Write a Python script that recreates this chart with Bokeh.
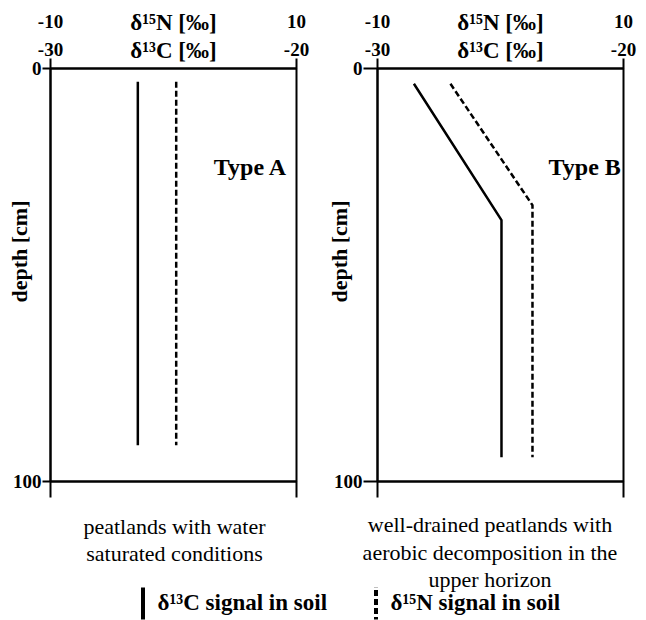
from bokeh.plotting import figure
from bokeh.models import (Range1d, LinearAxis, FixedTicker, Label, Legend,
                          LegendItem, ColumnDataSource, Title)
from bokeh.layouts import row, column
from bokeh.embed import file_html
from bokeh.resources import INLINE

# ---- tick values / labels ----
depth_ticks = [0, 100]
depth_labels = ["0", "100"]
c13_ticks = [-30, -20]
c13_labels = ["-30", "-20"]
n15_ticks = [-10, 10]
n15_labels = ["-10", "10"]

# ---- Type A profile ----
a_c13_depth = [3.2, 91.2]
a_c13 = [-26.45, -26.45]
a_n15_depth = [3.2, 91.2]
a_n15 = [0.22, 0.22]

# ---- Type B profile ----
b_c13_depth = [3.7, 36.7, 94.1]
b_c13 = [-28.52, -24.96, -24.96]
b_n15_depth = [3.7, 33.1, 94.1]
b_n15 = [-4.07, 2.6, 2.6]

# ---- texts ----
caption_a = ["peatlands with water", "saturated conditions"]
caption_b = ["well-drained peatlands with", "aerobic decomposition in the",
             "upper horizon"]
legend_labels = ["δ¹³C signal in soil", "δ¹⁵N signal in soil"]

FONT = "Liberation Serif"


def panel(width, bl, br, tick_left, c_x, c_d, n_x, n_d, type_text, type_x,
          depth_standoff):
    p = figure(width=width, height=500, x_range=Range1d(-30, -20),
               y_range=Range1d(100, 0), output_backend="svg",
               toolbar_location=None, x_axis_location=None,
               y_axis_location=None, min_border_left=bl, min_border_right=br,
               min_border_top=68, min_border_bottom=19)
    p.extra_x_ranges = {"n": Range1d(-10, 10)}
    p.grid.visible = False
    p.outline_line_color = "black"
    p.outline_line_width = 2
    p.background_fill_color = "white"
    p.border_fill_color = "white"

    lab = dict(major_label_text_font=FONT, major_label_text_font_style="bold",
               major_label_text_font_size="19px",
               major_label_text_color="black")
    ttl = dict(axis_label_text_font=FONT, axis_label_text_font_style="bold",
               axis_label_text_font_size="23px",
               axis_label_text_color="black")

    ax_l = LinearAxis(ticker=FixedTicker(ticks=depth_ticks),
                      major_label_overrides=dict(zip(depth_ticks, depth_labels)),
                      major_tick_out=tick_left, major_tick_in=0,
                      minor_tick_line_color=None, axis_line_width=2,
                      major_tick_line_width=2, major_label_standoff=1, **lab)
    p.add_layout(ax_l, "left")
    p.add_layout(Title(text="depth [cm]", align="right", offset=132,
                       vertical_align="bottom", standoff=depth_standoff,
                       text_font=FONT, text_font_style="bold",
                       text_font_size="22px", text_color="black"), "left")

    ax_c = LinearAxis(ticker=FixedTicker(ticks=c13_ticks),
                      major_label_overrides=dict(zip(c13_ticks, c13_labels)),
                      major_tick_out=10, major_tick_in=0,
                      minor_tick_line_color=None, axis_line_width=2,
                      major_tick_line_width=2, major_label_standoff=3,
                      axis_label="δ¹³C [‰]", axis_label_standoff=-23,
                      **lab, **ttl)
    p.add_layout(ax_c, "above")

    ax_n = LinearAxis(x_range_name="n", ticker=FixedTicker(ticks=n15_ticks),
                      major_label_overrides=dict(zip(n15_ticks, n15_labels)),
                      major_tick_out=0, major_tick_in=0, axis_line_color=None,
                      major_tick_line_color=None, minor_tick_line_color=None,
                      major_label_standoff=7, axis_label="δ¹⁵N [‰]",
                      axis_label_standoff=-23, **lab, **ttl)
    p.add_layout(ax_n, "above")

    ax_b = LinearAxis(ticker=FixedTicker(ticks=c13_ticks),
                      major_label_overrides={t: "" for t in c13_ticks},
                      major_label_text_font_size="0px",
                      major_tick_out=16, major_tick_in=0,
                      minor_tick_line_color=None, axis_line_width=2,
                      major_tick_line_width=2, major_label_standoff=0)
    p.add_layout(ax_b, "below")

    p.line(c_x, c_d, line_color="black", line_width=2.5)
    p.line(n_x, n_d, x_range_name="n", line_color="black", line_width=2.5,
           line_dash="6 3")

    p.add_layout(Label(x=type_x, y=23.9, text=type_text, text_font=FONT,
                       text_font_style="bold", text_font_size="24px",
                       text_align="right", text_baseline="middle",
                       text_color="black"))
    return p


pA = panel(328, 50, 32, 8, a_c13, a_c13_depth, a_n15, a_n15_depth,
           "Type A", -20.37, -44)
pB = panel(318, 49, 23, 14, b_c13, b_c13_depth, b_n15, b_n15_depth,
           "Type B", -20.11, -42)

# ---- bottom strip: captions and legend ----
pBot = figure(width=646, height=120, x_range=Range1d(0, 646),
              y_range=Range1d(0, 120), output_backend="svg",
              toolbar_location=None, x_axis_location=None,
              y_axis_location=None, min_border_left=0, min_border_right=0,
              min_border_top=0, min_border_bottom=0)
pBot.grid.visible = False
pBot.outline_line_color = None
pBot.background_fill_color = "white"
pBot.border_fill_color = "white"

for cx, ys, lines in [(174, [94, 67], caption_a),
                      (489.5, [96, 68, 41], caption_b)]:
    for yy, txt in zip(ys, lines):
        pBot.add_layout(Label(x=cx, y=yy, x_units="screen", y_units="screen",
                              text=txt, text_font=FONT, text_font_size="22px",
                              text_align="center", text_baseline="middle",
                              text_color="black"))

# legend keys: renderers with a single NaN row so nothing is drawn in the strip
src = ColumnDataSource(data=dict(x=[float("nan")], top=[float("nan")]))
key_c = pBot.vbar(x="x", top="top", width=1, source=src, fill_color="black",
                  line_color=None)
key_n = pBot.vbar(x="x", top="top", width=1, source=src, fill_color="black",
                  line_color=None, hatch_pattern="horizontal_line",
                  hatch_color="white", hatch_weight=3, hatch_scale=9)

for lx, lbl, key in [(139.5, legend_labels[0], key_c),
                     (372.5, legend_labels[1], key_n)]:
    pBot.add_layout(Legend(items=[LegendItem(label=lbl, renderers=[key])],
                           location=(lx, -3), glyph_width=5, glyph_height=40,
                           label_standoff=13, padding=0, margin=0,
                           border_line_color=None, background_fill_alpha=0,
                           label_text_font=FONT, label_text_font_style="bold",
                           label_text_font_size="23px",
                           label_text_color="black"))

layout = column(row(pA, pB), pBot)
open("out.html", "w").write(file_html(layout, INLINE))
